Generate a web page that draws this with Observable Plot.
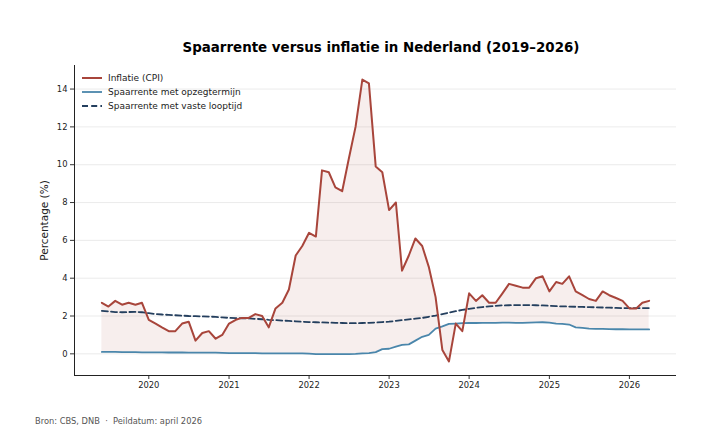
<!DOCTYPE html>
<html>
<head>
<meta charset="utf-8">
<script src="https://cdn.jsdelivr.net/npm/d3@7"></script>
<script src="https://cdn.jsdelivr.net/npm/@observablehq/plot@0.6"></script>
<style>
  html, body { margin: 0; padding: 0; background: #fff; }
  #wrap { position: relative; width: 706px; height: 446px; font-family: "DejaVu Sans", sans-serif; overflow: hidden; }
  #title { position: absolute; left: 6px; width: 750px; top: 40px; text-align: center; font-weight: bold; font-size: 13.4px; color: #000; }
  #caption { position: absolute; left: 35px; top: 416px; font-size: 8.3px; color: #555; white-space: pre; }
  #legend { position: absolute; left: 82px; top: 71px; font-size: 9px; color: #222; }
  #legend .row { display: flex; align-items: center; height: 14px; }
  #legend svg { margin-right: 6px; }
  #chart { position: absolute; left: 0; top: 0; }
</style>
</head>
<body>
<div id="wrap">
  <div id="chart"></div>
  <div id="title">Spaarrente versus inflatie in Nederland (2019–2026)</div>
  <div id="legend"></div>
  <div id="caption">Bron: CBS, DNB  ·  Peildatum: april 2026</div>
</div>
<script>
// Monthly data, June 2019 – April 2026
const startYear = 2019, startMonth = 5; // June (0-based)

const inflatie = [
  2.7, 2.5, 2.8, 2.6, 2.7, 2.6, 2.7,                          // 2019 Jun-Dec
  1.8, 1.6, 1.4, 1.2, 1.2, 1.6, 1.7, 0.7, 1.1, 1.2, 0.8, 1.0, // 2020
  1.6, 1.8, 1.9, 1.9, 2.1, 2.0, 1.4, 2.4, 2.7, 3.4, 5.2, 5.7, // 2021
  6.4, 6.2, 9.7, 9.6, 8.8, 8.6, 10.3, 12.0, 14.5, 14.3, 9.9, 9.6, // 2022
  7.6, 8.0, 4.4, 5.2, 6.1, 5.7, 4.6, 3.0, 0.2, -0.4, 1.6, 1.2, // 2023
  3.2, 2.8, 3.1, 2.7, 2.7, 3.2, 3.7, 3.6, 3.5, 3.5, 4.0, 4.1, // 2024
  3.3, 3.8, 3.7, 4.1, 3.3, 3.1, 2.9, 2.8, 3.3, 3.1, 2.95, 2.8, // 2025
  2.4, 2.4, 2.7, 2.8                                           // 2026 Jan-Apr
];

const opzegtermijn = [
  0.10, 0.10, 0.10, 0.09, 0.09, 0.09, 0.08,
  0.08, 0.08, 0.08, 0.07, 0.07, 0.07, 0.06, 0.06, 0.06, 0.06, 0.06, 0.05,
  0.04, 0.04, 0.04, 0.04, 0.04, 0.03, 0.03, 0.03, 0.03, 0.03, 0.03, 0.02,
  0.01, -0.01, -0.01, -0.01, -0.01, -0.01, -0.01, 0.00, 0.02, 0.04, 0.09, 0.25,
  0.27, 0.38, 0.47, 0.50, 0.70, 0.90, 1.00, 1.33, 1.45, 1.58, 1.60, 1.62,
  1.63, 1.63, 1.64, 1.64, 1.64, 1.65, 1.65, 1.64, 1.64, 1.65, 1.66, 1.67,
  1.65, 1.60, 1.58, 1.55, 1.40, 1.37, 1.33, 1.32, 1.32, 1.31, 1.30, 1.30,
  1.29, 1.29, 1.29, 1.29
];

const vasteLooptijd = [
  2.27, 2.24, 2.21, 2.20, 2.21, 2.22, 2.20,
  2.15, 2.10, 2.08, 2.06, 2.04, 2.02, 2.00, 1.99, 1.98, 1.97, 1.95, 1.93,
  1.90, 1.89, 1.88, 1.87, 1.85, 1.83, 1.80, 1.78, 1.76, 1.74, 1.72, 1.70,
  1.68, 1.67, 1.66, 1.65, 1.64, 1.63, 1.62, 1.62, 1.63, 1.64, 1.66, 1.68,
  1.70, 1.74, 1.78, 1.82, 1.86, 1.90, 1.96, 2.02, 2.10, 2.18, 2.26, 2.32,
  2.38, 2.43, 2.47, 2.51, 2.54, 2.56, 2.57, 2.58, 2.58, 2.58, 2.57, 2.56,
  2.54, 2.52, 2.51, 2.50, 2.49, 2.48, 2.47, 2.46, 2.45, 2.44, 2.43, 2.42,
  2.42, 2.42, 2.42, 2.42
];

const seriesNames = ["Inflatie (CPI)", "Spaarrente met opzegtermijn", "Spaarrente met vaste looptijd"];
const yTicks = [0, 2, 4, 6, 8, 10, 12, 14];
const xTickYears = [2020, 2021, 2022, 2023, 2024, 2025, 2026];

const colInfl = "#a8453b", colOpz = "#4a86ab", colVast = "#243f5e";

const rows = inflatie.map((v, i) => ({
  date: new Date(Date.UTC(startYear, startMonth + i, 1)),
  inflatie: v,
  opzeg: opzegtermijn[i],
  vast: vasteLooptijd[i]
}));

const t0 = +rows[0].date, t1 = +rows[rows.length - 1].date;
const padX = (t1 - t0) * 0.05;
const xDomain = [new Date(t0 - padX), new Date(t1 + padX)];
const allY = rows.flatMap(d => [d.inflatie, d.opzeg, d.vast]);
const yMin = d3.min(allY), yMax = d3.max(allY);
const padY = (yMax - yMin) * 0.05;
const yDomain = [yMin - padY, yMax + padY];

const chart = Plot.plot({
  width: 706,
  height: 446,
  marginLeft: 74,
  marginRight: 30,
  marginTop: 65,
  marginBottom: 71,
  style: { fontFamily: "DejaVu Sans, sans-serif", fontSize: "8.4px", color: "#222", background: "transparent" },
  x: { type: "utc", domain: xDomain },
  y: { domain: yDomain },
  marks: [
    Plot.gridY(yTicks, { stroke: "#e6e6e6", strokeOpacity: 1, strokeWidth: 0.8 }),
    Plot.areaY(rows, { x: "date", y1: "opzeg", y2: "inflatie", fill: colInfl, fillOpacity: 0.09 }),
    Plot.line(rows, { x: "date", y: "vast", stroke: colVast, strokeWidth: 1.8, strokeDasharray: "6,3.2" }),
    Plot.line(rows, { x: "date", y: "opzeg", stroke: colOpz, strokeWidth: 1.8 }),
    Plot.line(rows, { x: "date", y: "inflatie", stroke: colInfl, strokeWidth: 2 }),
    Plot.axisX(xTickYears.map(y => new Date(Date.UTC(y, 0, 1))), { tickFormat: d3.utcFormat("%Y"), tickSize: 4, tickPadding: 3, label: null, stroke: "#333" }),
    Plot.axisY(yTicks, { tickSize: 4, tickPadding: 3, label: null, stroke: "#333" }),
    Plot.ruleX([xDomain[0]], { stroke: "#222", strokeWidth: 1 }),
    Plot.ruleY([yDomain[0]], { stroke: "#222", strokeWidth: 1 }),
    Plot.text(["Percentage (%)"], { frameAnchor: "left", textAnchor: "middle", dx: -30, rotate: -90, fontSize: 10.5, fill: "#222" })
  ]
});
document.getElementById("chart").appendChild(chart);

// Legend
const legendStyles = [
  { color: colInfl, dash: null, w: 2 },
  { color: colOpz, dash: null, w: 1.8 },
  { color: colVast, dash: "6,3.2", w: 1.8 }
];
const legend = document.getElementById("legend");
seriesNames.forEach((name, i) => {
  const s = legendStyles[i];
  const row = document.createElement("div");
  row.className = "row";
  row.innerHTML = `<svg width="20" height="6"><line x1="0" y1="3" x2="20" y2="3" stroke="${s.color}" stroke-width="${s.w}" ${s.dash ? `stroke-dasharray="${s.dash}"` : ""}/></svg><span>${name}</span>`;
  legend.appendChild(row);
});
</script>
</body>
</html>
